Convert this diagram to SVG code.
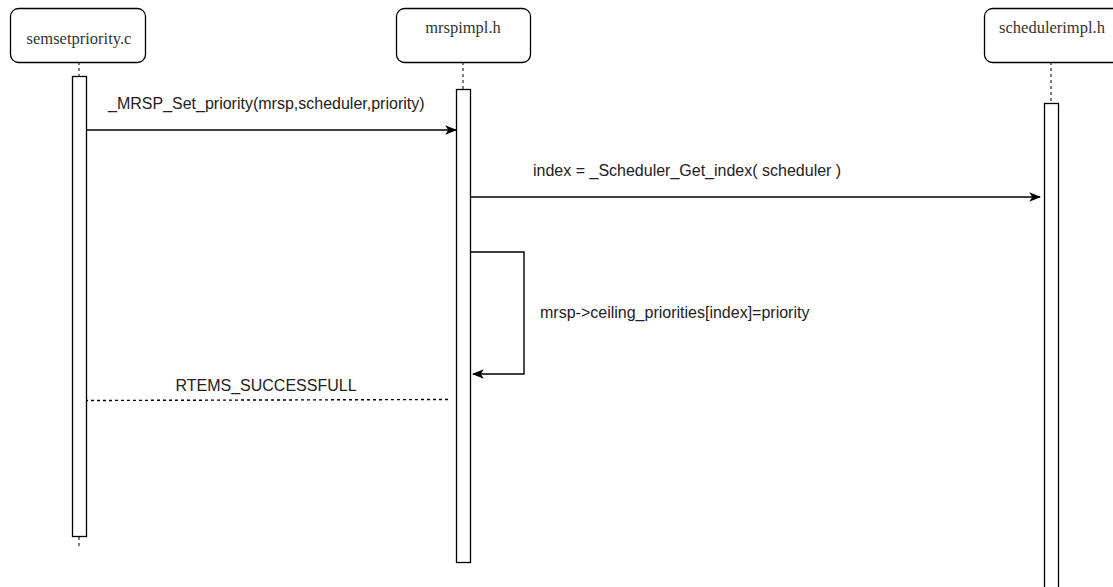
<svg xmlns="http://www.w3.org/2000/svg" width="1113" height="587" viewBox="0 0 1113 587">
<style>
.box{fill:#fff;stroke:#000;stroke-width:1.3}
.act{fill:#fff;stroke:#000;stroke-width:1.3}
.life{stroke:#000;stroke-width:1;stroke-dasharray:3,3;fill:none}
.t{font-family:"Liberation Serif",serif;font-size:16.5px;fill:#333;text-anchor:middle}
.l{font-family:"Liberation Sans",Arial,sans-serif;font-size:16px;fill:#222}
.msg{stroke:#000;stroke-width:1.4;fill:none}
</style>
<defs>
<marker id="ah" viewBox="0 0 10 10" refX="9" refY="5" markerWidth="12" markerHeight="12" orient="auto" markerUnits="userSpaceOnUse">
<path d="M0,1 L10,5 L0,9 L2.5,5 Z" fill="#000"/>
</marker>
</defs>
<rect width="1113" height="587" fill="#fff"/>
<g id="semsetpriority">
<rect class="box" x="10.5" y="8.5" width="135" height="54" rx="8"/>
<text class="t" x="79" y="44">semsetpriority.c</text>
<line class="life" x1="79" y1="62" x2="79" y2="76"/>
<rect class="act" x="72.5" y="76.5" width="14" height="460"/>
<line class="life" x1="79" y1="537" x2="79" y2="548"/>
</g>
<g id="mrspimpl">
<rect class="box" x="396.5" y="8.5" width="134" height="54" rx="8"/>
<text class="t" x="463" y="33">mrspimpl.h</text>
<line class="life" x1="463" y1="62" x2="463" y2="89"/>
<rect class="act" x="456.5" y="89.5" width="14" height="473"/>
</g>
<g id="schedulerimpl">
<rect class="box" x="984.5" y="8.5" width="140" height="54" rx="8"/>
<text class="t" x="1052" y="33">schedulerimpl.h</text>
<line class="life" x1="1051" y1="62" x2="1051" y2="103"/>
<rect class="act" x="1044.5" y="103.5" width="14" height="490"/>
</g>
<g id="connectors">
<line class="msg" x1="87" y1="130" x2="456" y2="130" marker-end="url(#ah)"/>
<text class="l" x="108" y="109">_MRSP_Set_priority(mrsp,scheduler,priority)</text>
<line class="msg" x1="471" y1="197" x2="1040" y2="197" marker-end="url(#ah)"/>
<text class="l" x="533" y="176">index = _Scheduler_Get_index( scheduler )</text>
<path class="msg" d="M471,252 H524 V374 H473" marker-end="url(#ah)"/>
<text class="l" x="540" y="318">mrsp-&gt;ceiling_priorities[index]=priority</text>
<line class="msg" x1="448" y1="399.5" x2="87" y2="400.5" stroke-dasharray="3,3" stroke-width="1"/>
<text class="l" x="266" y="391" text-anchor="middle">RTEMS_SUCCESSFULL</text>
</g>
</svg>
